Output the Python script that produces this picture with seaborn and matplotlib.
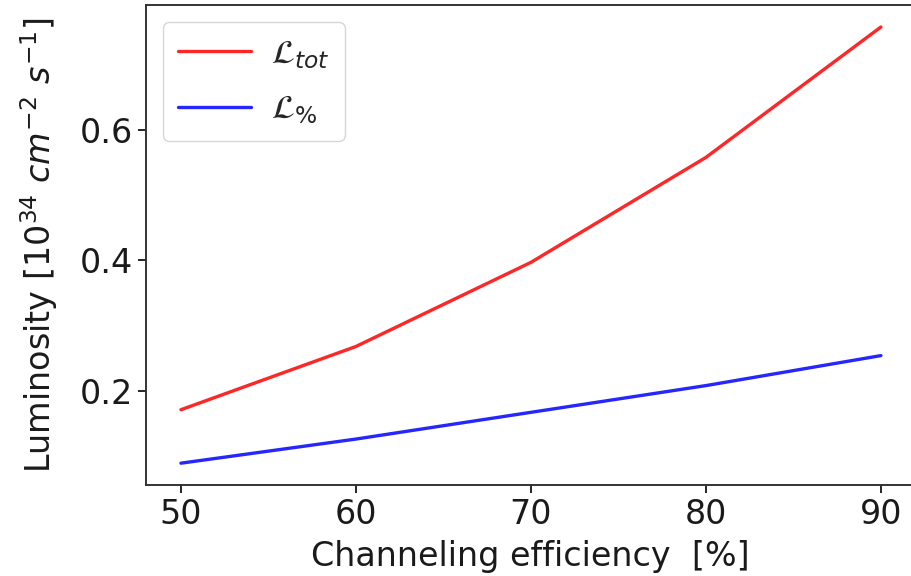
import numpy as np
import pandas as pd
import matplotlib
matplotlib.use("Agg")
import matplotlib.pyplot as plt
import seaborn as sns

# Channeling efficiency scan and resulting luminosities
efficiency = [50, 60, 70, 80, 90]
lumi_tot = [0.171, 0.268, 0.397, 0.558, 0.758]
lumi_pct = [0.089, 0.126, 0.167, 0.208, 0.254]
series_labels = [r"$\mathcal{L}_{tot}$", r"$\mathcal{L}_{\%}$"]
series_colors = ["#ff0000", "#0000ff"]

df = pd.DataFrame({
    "efficiency": efficiency * 2,
    "lumi": lumi_tot + lumi_pct,
    "series": [series_labels[0]] * len(efficiency) + [series_labels[1]] * len(efficiency),
})

sns.set_style("ticks")
plt.rcParams["font.family"] = ["DejaVu Sans"]
fs = 24
plt.rcParams["font.size"] = fs

fig = plt.figure(figsize=(9.12, 5.76), dpi=100)
# the axes box runs past the right edge of the figure
ax = fig.add_axes([0.160, 0.158, 0.88, 0.833])

sns.lineplot(data=df, x="efficiency", y="lumi", hue="series",
             palette=dict(zip(series_labels, series_colors)),
             linewidth=2.4, alpha=0.85, ax=ax)

ax.set_xlim(48, 48 + 0.88 * 912 / 17.5)
ax.set_xticks([50, 60, 70, 80, 90])
ax.set_yticks([0.2, 0.4, 0.6])
ax.tick_params(labelsize=fs, length=6, width=1.2, colors="black", labelcolor="#1a1a1a")
ax.set_xlabel("Channeling efficiency  [%]", fontsize=fs, labelpad=2, color="#1a1a1a")
ax.xaxis.set_label_coords(0.5 * 0.844 / 0.88, -0.115)
ax.set_ylabel(r"Luminosity [$10^{34}\ cm^{-2}\ s^{-1}$]", fontsize=fs, labelpad=14,
              color="#1a1a1a")
for sp in ax.spines.values():
    sp.set_color("#333333")
    sp.set_linewidth(1.4)

leg = ax.legend(loc="upper left", fontsize=fs, frameon=True, handlelength=2.2,
                borderpad=0.45, labelspacing=0.65, handletextpad=0.6)
leg.get_frame().set_edgecolor("#cccccc")

fig.savefig("out.png", dpi=100)
